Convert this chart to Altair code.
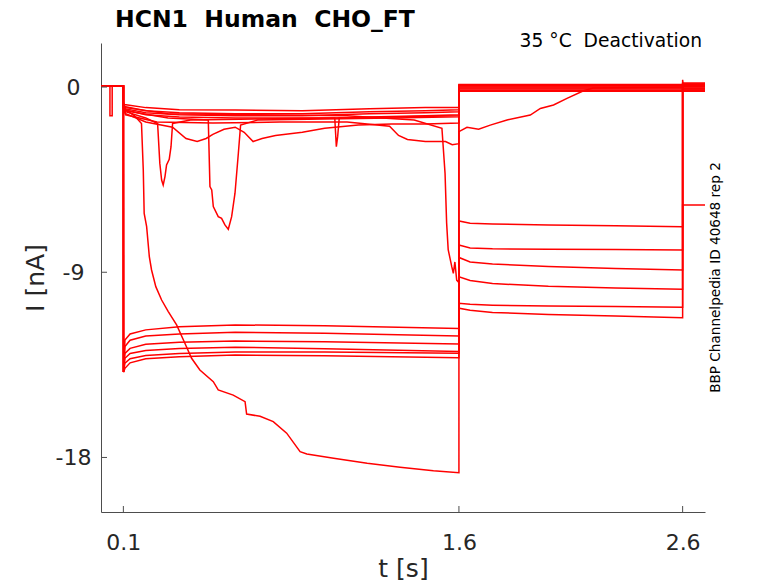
import altair as alt
import pandas as pd

RED = "#ff0000"
AX = "#4d4d4d"
FONT = "DejaVu Sans"
NB = "\u00a0"

# ---------------- data ----------------
x_ticks = [0.1, 1.6, 2.6]
y_ticks = [-18, -9, 0]

# holding level before the prepulse
pre_t = [0.0, 0.1]
pre_i = [0.05, 0.05]
pre_dip_t = [0.0, 0.04, 0.04, 0.05, 0.05, 0.1]
pre_dip_i = [0.05, 0.05, -1.4, -1.4, 0.05, 0.05]

# six traces with a large activated current during the prepulse
A_t = [0.1, 0.1005, 0.107, 0.13, 0.2, 0.35, 0.6, 1.0, 1.6]
A_i = [
    [0.05, -13.85, -12.29, -12.0, -11.8, -11.65, -11.56, -11.6, -11.73],
    [0.05, -13.85, -12.61, -12.3, -12.1, -12.0, -11.92, -11.97, -12.1],
    [0.05, -13.85, -12.94, -12.7, -12.5, -12.4, -12.34, -12.38, -12.49],
    [0.05, -13.85, -13.18, -12.95, -12.8, -12.7, -12.64, -12.72, -12.85],
    [0.05, -13.85, -13.42, -13.2, -13.05, -12.95, -12.88, -12.88, -12.93],
    [0.05, -13.85, -13.67, -13.4, -13.2, -13.1, -13.02, -13.06, -13.15],
]
tail_t = [1.6, 1.65, 1.75, 2.0, 2.3, 2.6]
tail_i = [
    [-6.51, -6.62, -6.66, -6.70, -6.74, -6.79],
    [-7.68, -7.82, -7.86, -7.88, -7.90, -7.92],
    [-8.28, -8.50, -8.60, -8.72, -8.82, -8.89],
    [-9.22, -9.40, -9.55, -9.68, -9.76, -9.82],
    [-10.51, -10.56, -10.60, -10.64, -10.67, -10.70],
    [-10.75, -10.85, -10.95, -11.05, -11.13, -11.21],
]
after_t = [2.6, 2.7]
after_i = [[0.1, 0.1], [0.0, 0.0], [-0.1, -0.1], [0.15, 0.15], [-0.05, -0.05], [-5.73, -5.73]]
spike_t = [2.6, 2.6, 2.603, 2.7]
spike_i = [0.0, 0.35, 0.1, 0.1]

# traces with small current during the prepulse
B1_t = [0.1, 0.105, 0.2, 0.35, 0.6, 0.9, 1.2, 1.45, 1.6]
B1_i = [-0.75, -0.85, -1.0, -1.1, -1.12, -1.15, -1.05, -1.0, -1.0]
B2_t = [0.1, 0.105, 0.2, 0.35, 0.6, 0.9, 1.2, 1.45, 1.6]
B2_i = [-0.85, -0.95, -1.15, -1.25, -1.3, -1.3, -1.2, -1.15, -1.1]
B3_t = [0.1, 0.105, 0.2, 0.35, 0.6, 0.9, 1.2, 1.45, 1.6]
B3_i = [-0.9, -1.05, -1.25, -1.35, -1.4, -1.4, -1.3, -1.25, -1.2]
B4_t = [0.1, 0.105, 0.2, 0.35, 0.6, 0.9, 1.045, 1.052, 1.058, 1.065, 1.2, 1.45, 1.6]
B4_i = [-1.0, -1.1, -1.35, -1.45, -1.5, -1.5, -1.5, -2.9, -2.4, -1.5, -1.45, -1.4, -1.35]
B5_t = [0.1, 0.11, 0.2, 0.32, 0.38, 0.43, 0.47, 0.5, 0.55, 0.6, 0.64, 0.68, 0.72,
        0.78, 0.9, 1.0, 1.15, 1.3, 1.45, 1.6]
B5_i = [-1.0, -1.3, -1.7, -1.95, -2.5, -2.65, -2.5, -2.3, -2.05, -1.95, -2.2, -2.65, -2.5,
        -2.35, -2.2, -2.0, -1.85, -1.8, -1.8, -1.75]
B6_t = [0.1, 0.11, 0.25, 0.5, 0.8, 1.1, 1.29, 1.33, 1.37, 1.45, 1.54, 1.57, 1.6]
B6_i = [-1.05, -1.35, -1.7, -1.75, -1.7, -1.7, -1.9, -2.35, -2.55, -2.65, -2.65, -2.8, -2.75]
Bb_t = [0.1, 0.11, 0.2, 0.253, 0.263, 0.271, 0.278, 0.286, 0.293, 0.305, 0.313, 0.32,
        0.4, 0.7, 1.0, 1.3, 1.6]
Bb_i = [-0.95, -1.2, -1.5, -1.77, -3.71, -4.52, -4.76, -4.35, -3.79, -3.51, -2.9, -1.77,
        -1.6, -1.55, -1.5, -1.45, -1.4]
Bd_t = [0.1, 0.11, 0.3, 0.4796, 0.487, 0.495, 0.502, 0.524, 0.539, 0.554, 0.569, 0.584,
        0.599, 0.614, 0.624, 0.7, 1.0, 1.3, 1.6]
Bd_i = [-0.9, -1.15, -1.5, -1.6, -4.84, -5.0, -5.81, -6.3, -6.38, -6.7, -6.91, -6.3,
        -5.16, -3.22, -1.85, -1.6, -1.55, -1.5, -1.45]
C_t = [0.1, 0.11, 0.3, 0.7, 1.1, 1.4, 1.524, 1.538, 1.545, 1.552, 1.568, 1.575, 1.582, 1.59, 1.6]
C_i = [-0.8, -1.0, -1.3, -1.35, -1.4, -1.6, -2.0, -4.2, -6.6, -7.9, -8.73, -9.05, -8.5, -9.38, -9.5]
B_test_i = [0.12, 0.0, -0.1, 0.05, -0.15, 0.08, -0.05, 0.1, -0.2]
B_after_i = [0.15, 0.05, -0.15, 0.1, -0.2, 0.2, -0.1, 0.05, -0.2]

# leak-like trace
L_t = [0.1, 0.11, 0.15, 0.181, 0.189, 0.193, 0.204, 0.216, 0.226, 0.245, 0.271, 0.30,
       0.338, 0.375, 0.405, 0.442, 0.502, 0.524, 0.591, 0.644, 0.651, 0.711, 0.77, 0.83,
       0.89, 0.92, 1.04, 1.19, 1.337, 1.486, 1.6]
L_i = [-0.9, -1.1, -1.4, -1.77, -4.03, -6.14, -6.78, -8.24, -8.89, -9.7, -10.35, -10.9,
       -11.56, -12.45, -13.18, -13.75, -14.32, -14.72, -14.97, -15.29, -15.89, -16.0, -16.26,
       -16.82, -17.72, -17.83, -18.04, -18.28, -18.47, -18.64, -18.74]
L2_t = [1.6, 1.636, 1.688, 1.74, 1.815, 1.919, 1.964, 2.023, 2.083, 2.157, 2.2, 2.6, 2.6, 2.7]
L2_i = [-2.17, -1.96, -2.05, -1.85, -1.6, -1.36, -1.04, -0.87, -0.55, -0.18, -0.05, 0.0, 0.05, 0.05]

title_text = "HCN1" + NB * 2 + "Human" + NB * 2 + "CHO_FT"
cond_text = "35" + NB + "°C" + NB * 2 + "Deactivation"
side_text = "BBP Channelpedia ID 40648 rep 2"

# ---------------- build long table ----------------
rows = []


def add(name, segs):
    k = 0
    for ts, vs in segs:
        for t, v in zip(ts, vs):
            rows.append({"trace": name, "k": k, "t": t, "I": v})
            k += 1


for j in range(6):
    last = (spike_t, spike_i) if j == 0 else (after_t, after_i[j])
    add(f"A{j}", [(pre_t, pre_i), (A_t, A_i[j]), (tail_t, tail_i[j]), last])

Bs = [(B1_t, B1_i), (B2_t, B2_i), (B3_t, B3_i), (B4_t, B4_i), (B5_t, B5_i),
      (B6_t, B6_i), (Bb_t, Bb_i), (Bd_t, Bd_i), (C_t, C_i)]
for j, (bt, bi) in enumerate(Bs):
    p_t, p_i = (pre_dip_t, pre_dip_i) if j == 2 else (pre_t, pre_i)
    add(f"B{j}", [(p_t, p_i), (bt, bi),
                  ([1.6, 2.6], [B_test_i[j]] * 2),
                  ([2.6, 2.7], [B_after_i[j]] * 2)])
add("L", [(pre_t, pre_i), (L_t, L_i), (L2_t, L2_i)])

df = pd.DataFrame(rows)

xs = alt.Scale(domain=[0, 2.7], nice=False, zero=False)
ys = alt.Scale(domain=[-20.65, 2.14], nice=False, zero=False)

W, H = 604, 469

lines = alt.Chart(df).mark_line(color=RED, strokeWidth=1.5, clip=True).encode(
    x=alt.X("t:Q", scale=xs, axis=alt.Axis(
        values=x_ticks, labelExpr="toString(datum.value)", ticks=False, tickSize=0,
        labelPadding=20, labelFontSize=22, labelFont=FONT, labelColor="#262626",
        labelFlush=False, labelOverlap=False, grid=False,
        domainColor=AX, domainWidth=1,
        title="t [s]", titleFont=FONT, titleFontSize=25, titleFontWeight="normal",
        titleColor="#262626", titleBaseline="alphabetic", titleY=64)),
    y=alt.Y("I:Q", scale=ys, axis=alt.Axis(
        values=y_ticks, labelExpr="toString(datum.value)", ticks=False, tickSize=0,
        labelPadding=28, labelAlign="center", labelFontSize=22, labelFont=FONT,
        labelColor="#262626", labelFlush=False, labelOverlap=False, grid=False,
        domainColor=AX, domainWidth=1,
        title="I [nA]", titleFont=FONT, titleFontSize=25, titleFontWeight="normal",
        titleColor="#262626", titleBaseline="alphabetic", titleAngle=270,
        titleAlign="center", titleX=-57.5, titleY=H / 2)),
    detail="trace:N",
    order="k:Q",
)

xtick = alt.Chart(pd.DataFrame({"t": x_ticks})).mark_rule(color=AX, strokeWidth=1).encode(
    x=alt.X("t:Q", scale=xs), y=alt.value(H), y2=alt.value(H - 6))
ytick = alt.Chart(pd.DataFrame({"I": y_ticks})).mark_rule(color=AX, strokeWidth=1).encode(
    y=alt.Y("I:Q", scale=ys), x=alt.value(0), x2=alt.value(6))

title = alt.Chart(pd.DataFrame({"s": [title_text]})).mark_text(
    align="left", baseline="alphabetic", font=FONT, fontSize=23.5, fontWeight="bold",
    color="black"
).encode(text="s:N", x=alt.value(14), y=alt.value(-16))

cond = alt.Chart(pd.DataFrame({"s": [cond_text]})).mark_text(
    align="right", baseline="alphabetic", font=FONT, fontSize=18.7, color="black"
).encode(text="s:N", x=alt.value(601), y=alt.value(4))

side = alt.Chart(pd.DataFrame({"s": [side_text]})).mark_text(
    align="center", baseline="middle", angle=270, font=FONT, fontSize=13.6, color="black"
).encode(text="s:N", x=alt.value(615), y=alt.value(H / 2))

chart = alt.layer(lines, xtick, ytick, title, cond, side).properties(
    width=W, height=H,
    autosize=alt.AutoSizeParams(type="none"),
    padding={"left": 93, "top": 35, "right": 65, "bottom": 73},
    background="white",
).configure_view(stroke=None)

chart.save("out.html", embed_options={"renderer": "svg", "actions": False})
